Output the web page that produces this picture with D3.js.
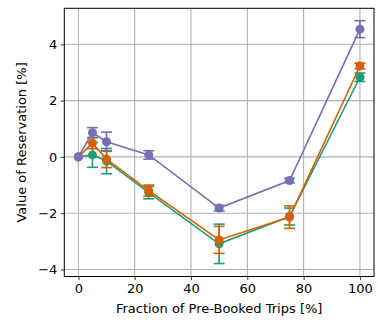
<!DOCTYPE html>
<html>
<head>
<meta charset="utf-8">
<script src="https://cdn.jsdelivr.net/npm/d3@7"></script>
<style>
  html, body { margin: 0; padding: 0; background: #fff; }
  svg { display: block; font-family: "DejaVu Sans", sans-serif; }
</style>
</head>
<body>
<svg id="chart" width="378" height="322"></svg>
<script>
// Fraction of pre-booked trips (x) and value of reservation per series
const fractions = [0, 5, 10, 25, 50, 75, 100];
const seriesNames = ["A", "B", "C"];
const greenValues  = [0, 0.07, -0.15, -1.27, -3.09, -2.12, 2.83];
const greenErrors  = [0, 0.44, 0.45, 0.22, 0.70, 0.30, 0.15];
const orangeValues = [0, 0.49, -0.08, -1.20, -2.95, -2.14, 3.23];
const orangeErrors = [0, 0.20, 0.30, 0.20, 0.48, 0.40, 0.10];
const purpleValues = [0, 0.86, 0.54, 0.07, -1.82, -0.84, 4.54];
const purpleErrors = [0, 0.18, 0.34, 0.15, 0.10, 0.08, 0.30];
const colors = ["#1b9e77", "#d95f02", "#7570b3"];
const xTicks = [0, 20, 40, 60, 80, 100];
const yTicks = [-4, -2, 0, 2, 4];

const series = [
  { name: seriesNames[0], values: greenValues,  errors: greenErrors,  color: colors[0] },
  { name: seriesNames[1], values: orangeValues, errors: orangeErrors, color: colors[1] },
  { name: seriesNames[2], values: purpleValues, errors: purpleErrors, color: colors[2] }
];

const margin = { left: 64.3, right: 4, top: 8.3, bottom: 45.5 };
const W = 378, H = 322;
const svg = d3.select("#chart");

const x = d3.scaleLinear().domain([-5, 105]).range([margin.left, W - margin.right]);
const y = d3.scaleLinear().domain([-4.25, 5.28]).range([H - margin.bottom, margin.top]);

// grid
const grid = svg.append("g");
grid.selectAll("line.gx").data(xTicks).join("line")
  .attr("x1", d => x(d)).attr("x2", d => x(d))
  .attr("y1", margin.top).attr("y2", H - margin.bottom)
  .attr("stroke", "#b0b0b0").attr("stroke-width", 1.1);
grid.selectAll("line.gy").data(yTicks).join("line")
  .attr("y1", d => y(d)).attr("y2", d => y(d))
  .attr("x1", margin.left).attr("x2", W - margin.right)
  .attr("stroke", "#b0b0b0").attr("stroke-width", 1.1);

// axes
const fmt = d => (d < 0 ? "\u2212" + Math.abs(d) : String(d));
const xAxis = svg.append("g")
  .attr("transform", `translate(0,${H - margin.bottom})`)
  .call(d3.axisBottom(x).tickValues(xTicks).tickFormat(fmt).tickSizeOuter(0).tickSize(3.5).tickPadding(3.5));
const yAxis = svg.append("g")
  .attr("transform", `translate(${margin.left},0)`)
  .call(d3.axisLeft(y).tickValues(yTicks).tickFormat(fmt).tickSizeOuter(0).tickSize(3.5).tickPadding(3.5));
[xAxis, yAxis].forEach(a => {
  a.selectAll("text").attr("font-size", 13).attr("fill", "#000").attr("font-family", "DejaVu Sans, sans-serif");
  a.selectAll("line").attr("stroke", "#000").attr("stroke-width", 0.8);
  a.select(".domain").remove();
});

// frame
svg.append("rect")
  .attr("x", margin.left).attr("y", margin.top)
  .attr("width", W - margin.right - margin.left)
  .attr("height", H - margin.bottom - margin.top)
  .attr("fill", "none").attr("stroke", "#000").attr("stroke-width", 1);

// series
const line = d3.line().x((d, i) => x(fractions[i])).y(d => y(d));
const plot = svg.append("g");
series.forEach(s => {
  const g = plot.append("g");
  g.append("path").attr("d", line(s.values))
    .attr("fill", "none").attr("stroke", s.color).attr("stroke-width", 1.6);
  const pts = s.values.map((v, i) => ({ x: fractions[i], v, e: s.errors[i] }));
  const eb = g.selectAll("g.err").data(pts.filter(p => p.e > 0)).join("g");
  eb.append("line")
    .attr("x1", d => x(d.x)).attr("x2", d => x(d.x))
    .attr("y1", d => y(d.v - d.e)).attr("y2", d => y(d.v + d.e))
    .attr("stroke", s.color).attr("stroke-width", 1.6);
  [-1, 1].forEach(sg => {
    eb.append("line")
      .attr("x1", d => x(d.x) - 5.5).attr("x2", d => x(d.x) + 5.5)
      .attr("y1", d => y(d.v + sg * d.e)).attr("y2", d => y(d.v + sg * d.e))
      .attr("stroke", s.color).attr("stroke-width", 1.6);
  });
  g.selectAll("circle").data(pts).join("circle")
    .attr("cx", d => x(d.x)).attr("cy", d => y(d.v)).attr("r", 4.5)
    .attr("fill", s.color);
});

// axis titles
svg.append("text")
  .attr("x", (margin.left + W - margin.right) / 2).attr("y", 313)
  .attr("text-anchor", "middle").attr("font-size", 13).attr("fill", "#000")
  .text("Fraction of Pre-Booked Trips [%]");
svg.append("text")
  .attr("transform", `translate(26,${(margin.top + H - margin.bottom) / 2}) rotate(-90)`)
  .attr("text-anchor", "middle").attr("font-size", 13).attr("fill", "#000")
  .text("Value of Reservation [%]");
</script>
</body>
</html>
